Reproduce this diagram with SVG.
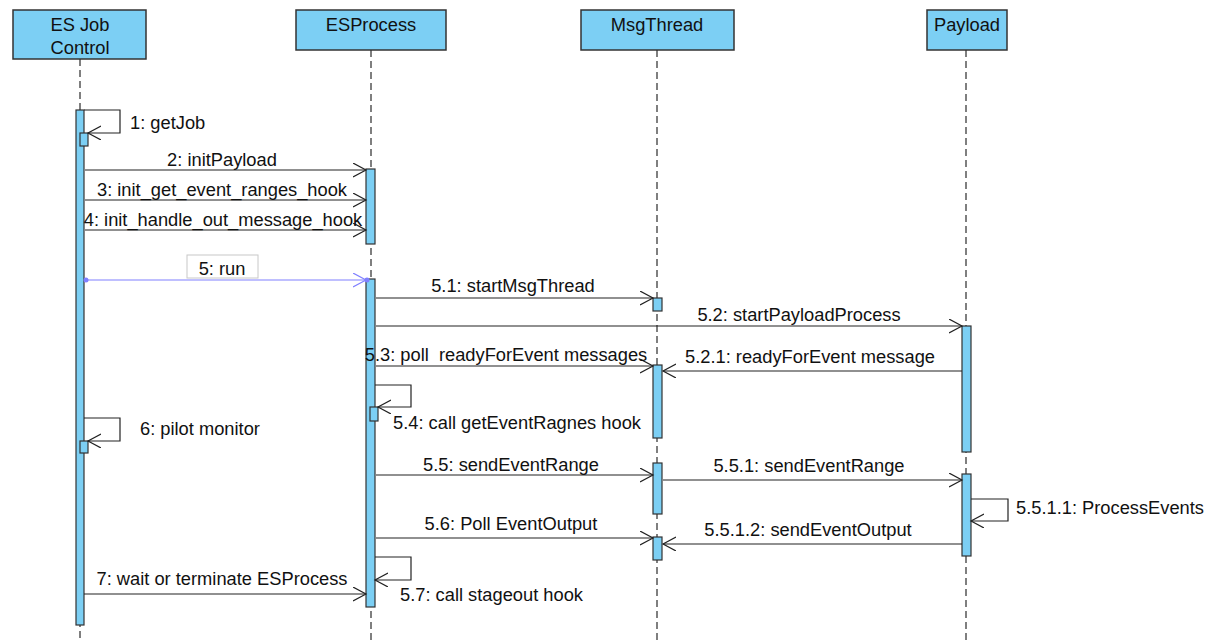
<svg xmlns="http://www.w3.org/2000/svg" width="1213" height="641" viewBox="0 0 1213 641">
<defs>
<style>
.hdr{fill:#7ccff4;stroke:#333;stroke-width:1.5}
.act{fill:#7ccff4;stroke:#333;stroke-width:1.2}
.life{stroke:#555;stroke-width:1.5;stroke-dasharray:7,4;fill:none}
.msg{stroke:#222;stroke-width:1.2;fill:none}
.run{stroke:#8080ff;stroke-width:1.2;fill:none}
text{font-family:"Liberation Sans",Arial,sans-serif;font-size:18.3px;fill:#111}
.c{text-anchor:middle}
</style>
<marker id="ah" markerWidth="16" markerHeight="16" refX="13" refY="7" orient="auto" markerUnits="userSpaceOnUse">
<path d="M0,0 L13,7 L0,14" fill="none" stroke="#222" stroke-width="1.2"/>
</marker>
<marker id="ahb" markerWidth="16" markerHeight="16" refX="13" refY="7" orient="auto" markerUnits="userSpaceOnUse">
<path d="M0,0 L13,7 L0,14" fill="none" stroke="#8080ff" stroke-width="1.2"/>
</marker>
</defs>
<rect width="1213" height="641" fill="#fff"/>

<g id="lifelines">
<line class="life" x1="80" y1="59" x2="80" y2="641"/>
<line class="life" x1="371" y1="50" x2="371" y2="641"/>
<line class="life" x1="657" y1="50" x2="657" y2="641"/>
<line class="life" x1="966" y1="50" x2="966" y2="641"/>
</g>

<g id="es-job-control">
<rect class="hdr" x="13" y="10" width="133" height="49"/>
<text class="c" x="80" y="31">ES Job</text>
<text class="c" x="80" y="54">Control</text>
<rect class="act" x="76" y="110" width="8" height="515"/>
<rect class="act" x="80" y="133" width="8" height="13"/>
<rect class="act" x="80" y="441" width="8" height="12"/>
</g>

<g id="esprocess">
<rect class="hdr" x="296" y="10" width="150" height="40"/>
<text class="c" x="371" y="31">ESProcess</text>
<rect class="act" x="366" y="169" width="9" height="75"/>
<rect class="act" x="366" y="279" width="9" height="328"/>
<rect class="act" x="370" y="407" width="8" height="14"/>
</g>

<g id="msgthread">
<rect class="hdr" x="581" y="10" width="153" height="40"/>
<text class="c" x="657" y="31">MsgThread</text>
<rect class="act" x="653" y="298" width="9" height="13"/>
<rect class="act" x="653" y="365" width="9" height="73"/>
<rect class="act" x="653" y="463" width="9" height="51"/>
<rect class="act" x="653" y="537" width="9" height="23"/>
</g>

<g id="payload">
<rect class="hdr" x="927" y="10" width="80" height="40"/>
<text class="c" x="967" y="31">Payload</text>
<rect class="act" x="962" y="326" width="9" height="126"/>
<rect class="act" x="962" y="474" width="9" height="82"/>
</g>

<g id="connectors">
<polyline class="msg" points="84,110 120,110 120,133 88,133" marker-end="url(#ah)"/>
<text x="130" y="129">1: getJob</text>

<line class="msg" x1="85" y1="170" x2="366" y2="170" marker-end="url(#ah)"/>
<text class="c" x="222" y="166">2: initPayload</text>
<line class="msg" x1="85" y1="200" x2="366" y2="200" marker-end="url(#ah)"/>
<text class="c" x="222" y="196">3: init_get_event_ranges_hook</text>
<line class="msg" x1="85" y1="230" x2="366" y2="230" marker-end="url(#ah)"/>
<text class="c" x="223" y="226">4: init_handle_out_message_hook</text>

<line class="run" x1="86" y1="280" x2="366" y2="280" marker-end="url(#ahb)"/>
<circle cx="86" cy="280" r="2.5" fill="#8080ff"/>
<circle cx="367" cy="280" r="2.5" fill="#8080ff"/>
<rect x="187" y="255" width="71" height="23" fill="#fff" stroke="#c8c8c8" stroke-width="1"/>
<text class="c" x="222" y="275">5: run</text>

<line class="msg" x1="376" y1="298" x2="653" y2="298" marker-end="url(#ah)"/>
<text class="c" x="513" y="292">5.1: startMsgThread</text>
<line class="msg" x1="376" y1="326" x2="962" y2="326" marker-end="url(#ah)"/>
<text class="c" x="799" y="321">5.2: startPayloadProcess</text>
<line class="msg" x1="376" y1="366" x2="653" y2="366" marker-end="url(#ah)"/>
<text class="c" x="506" y="361" xml:space="preserve">5.3: poll  readyForEvent messages</text>
<line class="msg" x1="962" y1="371" x2="663" y2="371" marker-end="url(#ah)"/>
<text class="c" x="810" y="363">5.2.1: readyForEvent message</text>

<polyline class="msg" points="375,385 411,385 411,407 378,407" marker-end="url(#ah)"/>
<text x="393" y="429">5.4: call getEventRagnes hook</text>

<polyline class="msg" points="84,418 120,418 120,441 88,441" marker-end="url(#ah)"/>
<text x="140" y="435">6: pilot monitor</text>

<line class="msg" x1="376" y1="475" x2="653" y2="475" marker-end="url(#ah)"/>
<text class="c" x="511" y="471">5.5: sendEventRange</text>
<line class="msg" x1="663" y1="480" x2="962" y2="480" marker-end="url(#ah)"/>
<text class="c" x="809" y="472">5.5.1: sendEventRange</text>
<polyline class="msg" points="971,499 1008,499 1008,521 971,521" marker-end="url(#ah)"/>
<text x="1016" y="514">5.5.1.1: ProcessEvents</text>

<line class="msg" x1="376" y1="538" x2="653" y2="538" marker-end="url(#ah)"/>
<text class="c" x="511" y="530">5.6: Poll EventOutput</text>
<line class="msg" x1="962" y1="544" x2="663" y2="544" marker-end="url(#ah)"/>
<text class="c" x="808" y="536">5.5.1.2: sendEventOutput</text>

<polyline class="msg" points="375,557 411,557 411,580 375,580" marker-end="url(#ah)"/>
<text x="400" y="601">5.7: call stageout hook</text>

<line class="msg" x1="84" y1="594" x2="366" y2="594" marker-end="url(#ah)"/>
<text class="c" x="222" y="585">7: wait or terminate ESProcess</text>
</g>
</svg>
